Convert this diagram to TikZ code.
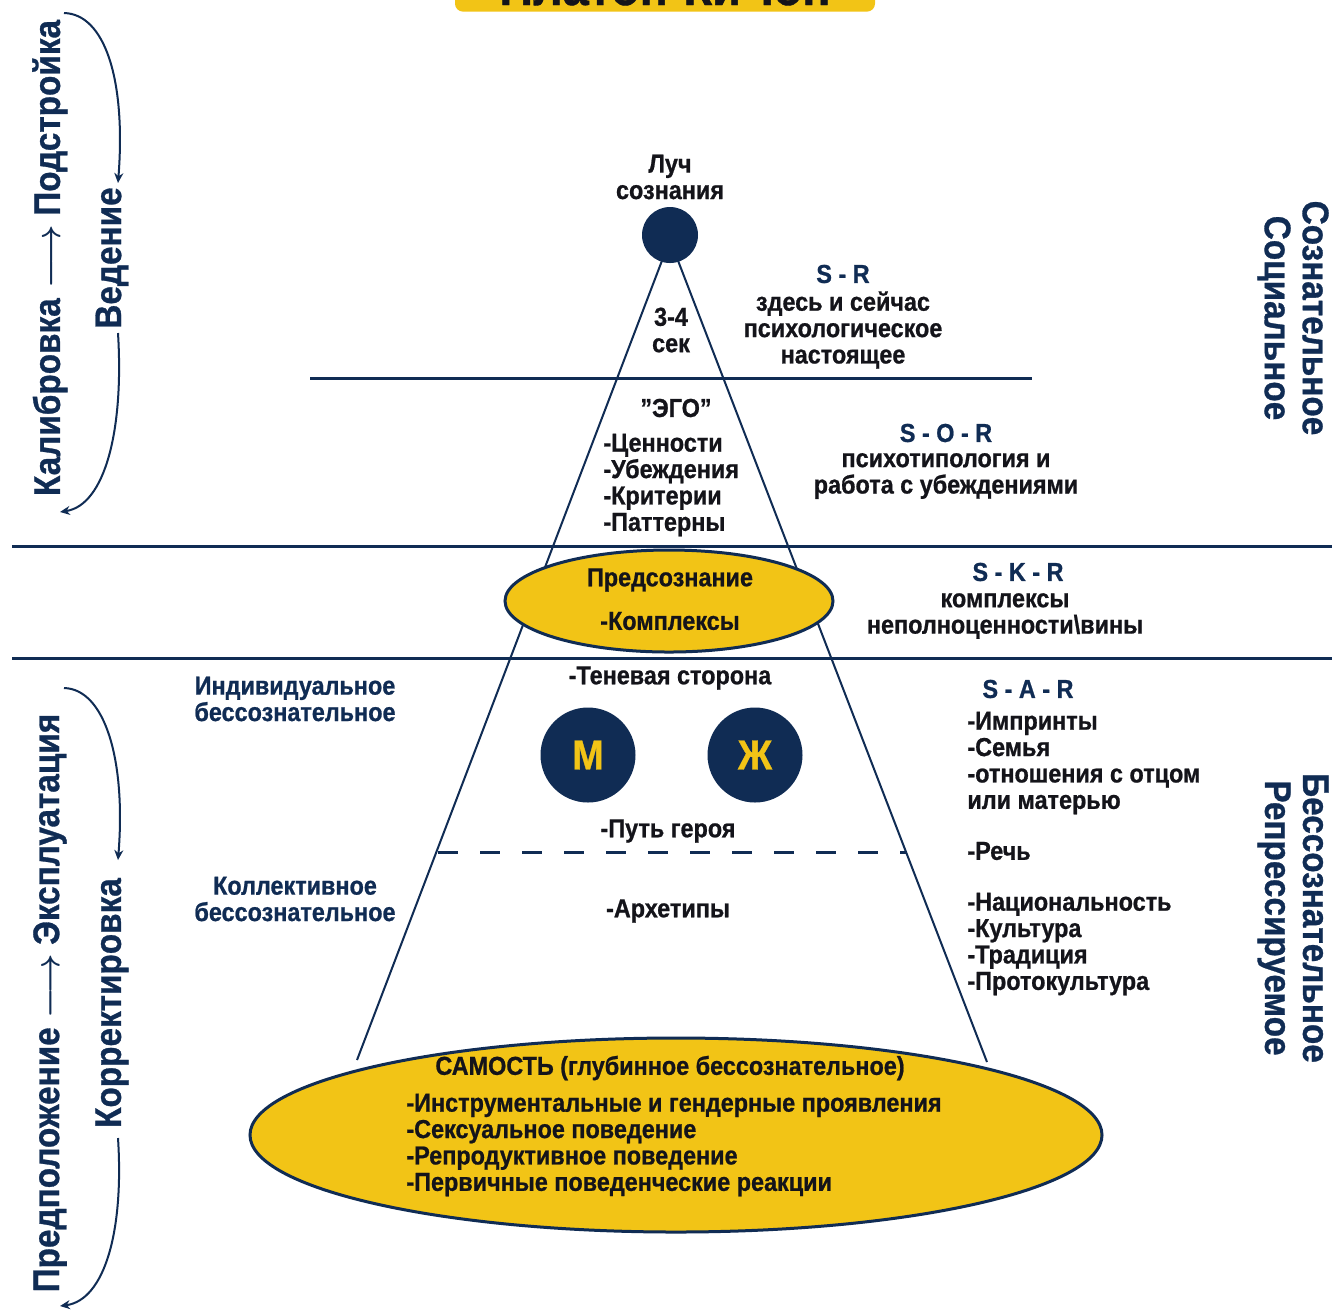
\documentclass[tikz,border=0pt]{standalone}
\usepackage{fontspec}
\setmainfont{Liberation Sans}[FakeStretch=0.9, BoldFeatures={FakeBold=0.8}]
\usetikzlibrary{arrows.meta,shapes.geometric}
\definecolor{navy}{RGB}{16,44,84}
\definecolor{gold}{RGB}{242,196,22}
\definecolor{ink}{RGB}{20,20,26}
\newcommand{\bigarrow}{{\boldmath$\longrightarrow$}}
\tikzset{
  txt/.style={inner sep=0pt, font=\bfseries\fontsize{13}{13.2}\selectfont, text=ink, align=center},
  lst/.style={txt, align=left, anchor=west},
  hd/.style={txt, text=navy},
  big/.style={inner sep=0pt, font=\bfseries\fontsize{18.5}{19}\selectfont, text=navy, align=center},
  hline/.style={draw=navy, line width=1.5pt},
  cone/.style={draw=navy, line width=1pt},
  arc/.style={draw=navy, line width=1pt, -{Stealth[length=5pt,width=4.5pt]}},
  dot/.style={circle, fill=navy, inner sep=0pt},
  oval/.style={ellipse, draw=navy, line width=1.5pt, fill=gold, inner sep=0pt}
}
\begin{document}
\begin{tikzpicture}[x=0.5pt,y=-0.5pt]
\fill[white] (0,0) rectangle (1332,1314);
\useasboundingbox (0,0) rectangle (1332,1314);
\clip (0,0) rectangle (1332,1314);

% title (cut off)
\node (titlebox) [fill=gold, rounded corners=4pt, minimum width=210pt, minimum height=30pt, anchor=south] at (665,12) {};
\node (title) [anchor=base, inner sep=0pt, font=\bfseries\fontsize{26}{28}\selectfont, text=ink] at (665,5) {Платон-КиЧон};

% horizontal lines
\coordinate (h1a) at (310,378); \coordinate (h1b) at (1032,378);
\coordinate (h2a) at (12,546);  \coordinate (h2b) at (1332,546);
\coordinate (h3a) at (12,658);  \coordinate (h3b) at (1332,658);
\coordinate (d1a) at (438,852); \coordinate (d1b) at (906,852);
\draw[hline] (h1a) -- (h1b);
\draw[hline] (h2a) -- (h2b);
\draw[hline] (h3a) -- (h3b);
\draw[navy, line width=1.5pt, dash pattern=on 10pt off 11pt] (d1a) -- (d1b);

% cone
\coordinate (apexL) at (663,258); \coordinate (apexR) at (677,258);
\coordinate (baseL) at (357,1060); \coordinate (baseR) at (987,1062);
\draw[cone] (apexL) -- (baseL);
\draw[cone] (apexR) -- (baseR);

% top dot
\node (luch) [dot, minimum size=28pt] at (670,235) {};
\node (luchtxt) [txt] at (670,177) {Луч\\сознания};

% ovals
\node (presozn) [oval, minimum width=164pt, minimum height=51pt] at (669,601) {};
\node (presozn1) [txt] at (670,580) {Предсознание};
\node (presozn2) [txt] at (670,621) {-Комплексы};

\node (samost) [oval, minimum width=426pt, minimum height=97pt] at (676,1135) {};
\node (samost0) [txt] at (670,1068) {САМОСТЬ (глубинное бессознательное)};
\node (samost1) [lst] at (406,1145) {-Инструментальные и гендерные проявления\\-Сексуальное поведение\\-Репродуктивное поведение\\-Первичные поведенческие реакции};

% M / Zh circles
\node (m) [dot, minimum size=47.5pt, text=gold, font=\bfseries\fontsize{21}{22}\selectfont] at (588,755) {М};
\node (zh) [dot, minimum size=47.5pt, text=gold, font=\bfseries\fontsize{21}{22}\selectfont] at (755,755) {Ж};

% inside cone texts
\node (sek) [txt] at (671,330) {3-4\\сек};
\node (ego) [txt] at (676,408) {"ЭГО"};
\node (egolist) [lst] at (603,485) {-Ценности\\-Убеждения\\-Критерии\\-Паттерны};
\node (ten) [txt] at (670,678) {-Теневая сторона};
\node (put) [txt] at (668,831) {-Путь героя};
\node (arh) [txt] at (668,911) {-Архетипы};

% right-hand descriptions
\node (sr) [hd] at (843,274) {S - R};
\node (srt) [txt] at (843,330) {здесь и сейчас\\психологическое\\настоящее};
\node (sor) [hd] at (946,433) {S - O - R};
\node (sort) [txt] at (946,476) {психотипология и\\работа с убеждениями};
\node (skr) [hd] at (1018,572) {S - K - R};
\node (skrt) [txt] at (1005,616) {комплексы\\неполноценности\textbackslash вины};
\node (sar) [hd] at (1028,689) {S - A - R};
\node (sarl) [lst] at (967,763) {-Импринты\\-Семья\\-отношения с отцом\\или матерью};
\node (rech) [lst] at (967,851) {-Речь};
\node (nat) [lst] at (967,944) {-Национальность\\-Культура\\-Традиция\\-Протокультура};

% left labels
\node (indiv) [hd] at (295,699) {Индивидуальное\\бессознательное};
\node (koll) [hd] at (295,899) {Коллективное\\бессознательное};

% right rotated labels
\node (soz) [big, rotate=-90] at (1293,318) {Сознательное\\Социальное};
\node (bess) [big, rotate=-90] at (1293,918) {Бессознательное\\Репрессируемое};

% left rotated labels
\node (kal) [big, rotate=90] at (50,258) {Калибровка \bigarrow{} Подстройка};
\node (ved) [big, rotate=90] at (112,258) {Ведение};
\node (pred) [big, rotate=90] at (50,1003) {Предположение \bigarrow{} Эксплуатация};
\node (korr) [big, rotate=90] at (112,1003) {Корректировка};

% left arcs
\coordinate (a1s) at (64,13);  \coordinate (a1e) at (118,183);
\coordinate (a2s) at (118,333); \coordinate (a2e) at (60,512);
\coordinate (a3s) at (64,688); \coordinate (a3e) at (118,860);
\coordinate (a4s) at (118,1138); \coordinate (a4e) at (60,1306);
\draw[arc] (a1s) .. controls (105,14) and (126,80) .. (a1e);
\draw[arc] (a2s) .. controls (124,430) and (105,505) .. (a2e);
\draw[arc] (a3s) .. controls (105,689) and (126,760) .. (a3e);
\draw[arc] (a4s) .. controls (124,1230) and (105,1300) .. (a4e);
\end{tikzpicture}
\end{document}
